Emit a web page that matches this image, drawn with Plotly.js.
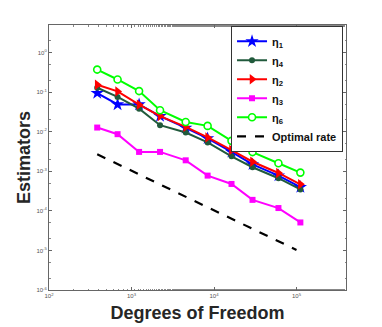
<!DOCTYPE html>
<html>
<head>
<meta charset="utf-8">
<script src="https://cdn.plot.ly/plotly-3.0.1.min.js"></script>
<style>
  html, body { margin: 0; padding: 0; background: #fff; }
  #chart { width: 382px; height: 327px; }
</style>
</head>
<body>
<div id="chart"></div>
<script>
// degrees of freedom for each refinement level
var dofs = [384, 678, 1236, 2218, 4540, 8370, 16300, 29300, 60400, 111400];

var eta1 = [0.095, 0.049, 0.049, 0.025, 0.0126, 0.0068, 0.0031, 0.0015, 0.00078, 0.00040];
var eta4 = [0.13, 0.076, 0.0385, 0.0147, 0.0096, 0.0054, 0.0024, 0.00127, 0.00067, 0.00035];
var eta2 = [0.155, 0.105, 0.0485, 0.025, 0.0133, 0.0072, 0.00345, 0.00175, 0.00091, 0.00047];
var eta3 = [0.0128, 0.0087, 0.0031, 0.0031, 0.0019, 0.00078, 0.00048, 0.00019, 0.000118, 0.000051];
var eta6 = [0.374, 0.21, 0.107, 0.035, 0.0177, 0.0141, 0.0059, 0.00307, 0.0016, 0.00093];

// reference slope line (rate -1)
var rateX = [384, 100000];
var rateY = [0.0027, 0.0000103];

// tick labels
var xTickVals = [1e2, 1e3, 1e4, 1e5];
var xTickText = ['10<sup>2</sup>', '10<sup>3</sup>', '10<sup>4</sup>', '10<sup>5</sup>'];
var yTickVals = [1e-6, 1e-5, 1e-4, 1e-3, 1e-2, 1e-1, 1];
var yTickText = ['10<sup>-6</sup>', '10<sup>-5</sup>', '10<sup>-4</sup>', '10<sup>-3</sup>',
                 '10<sup>-2</sup>', '10<sup>-1</sup>', '10<sup>0</sup>'];

function series(name, y, color, symbol, size, fill) {
    return {
        x: dofs, y: y, name: name,
        type: 'scatter', mode: 'lines+markers',
        line: { color: color, width: 2 },
        marker: {
            symbol: symbol, size: size,
            color: fill || color,
            line: { color: color, width: fill ? 1.6 : 0 }
        }
    };
}

var traces = [
    series('η<sub>1</sub>', eta1, '#0000ff', 'star', 10),
    series('η<sub>4</sub>', eta4, '#215a3c', 'circle', 6),
    series('η<sub>2</sub>', eta2, '#ff0000', 'triangle-right', 9),
    series('η<sub>3</sub>', eta3, '#ff00ff', 'square', 6),
    series('η<sub>6</sub>', eta6, '#00ff00', 'circle', 7, '#ffffff'),
    {
        x: rateX, y: rateY, name: 'Optimal rate',
        type: 'scatter', mode: 'lines',
        line: { color: '#000', width: 2.2, dash: 'dash' }
    }
];

var axisCommon = {
    type: 'log',
    showgrid: false, zeroline: false,
    showline: true, linecolor: '#666', linewidth: 1, mirror: 'ticks',
    ticks: 'inside', ticklen: 3, tickcolor: '#666',
    minor: { ticks: 'inside', ticklen: 1.5, tickcolor: '#888', showgrid: false },
    tickfont: { family: 'Liberation Sans, Arial', size: 6, color: '#555' }
};

var layout = {
    width: 382, height: 327,
    margin: { l: 49, r: 36, t: 25, b: 37 },
    paper_bgcolor: '#fff', plot_bgcolor: '#fff',
    showlegend: true,
    legend: {
        x: 0.99, xanchor: 'right', y: 0.997, yanchor: 'top',
        bgcolor: '#fff', bordercolor: '#333', borderwidth: 1,
        font: { family: 'Liberation Sans, Arial', size: 11, color: '#111', weight: 'bold' },
        itemwidth: 30, tracegroupgap: 0
    },
    xaxis: Object.assign({}, axisCommon, {
        range: [2, 5.6],
        tickvals: xTickVals, ticktext: xTickText,
        title: { text: 'Degrees of Freedom', standoff: 8,
                 font: { family: 'Liberation Sans, Arial', size: 18, color: '#262626', weight: 'bold' } }
    }),
    yaxis: Object.assign({}, axisCommon, {
        range: [-6, 0.7],
        tickvals: yTickVals, ticktext: yTickText,
        title: { text: 'Estimators', standoff: 1,
                 font: { family: 'Liberation Sans, Arial', size: 18, color: '#262626', weight: 'bold' } }
    })
};

Plotly.newPlot('chart', traces, layout, { displayModeBar: false, staticPlot: true });
</script>
</body>
</html>
